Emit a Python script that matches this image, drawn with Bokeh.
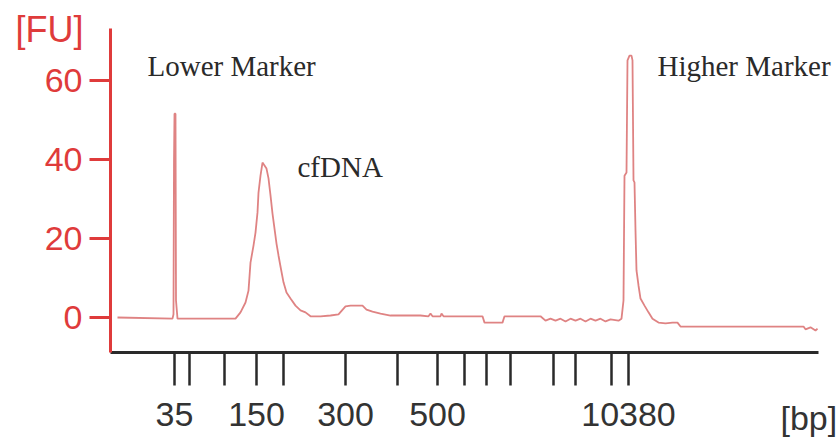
from bokeh.plotting import figure
from bokeh.models import FixedTicker, Label, Range1d
from bokeh.embed import file_html
from bokeh.resources import INLINE

# Electropherogram trace: migration position (scan units) vs fluorescence [FU]
trace_x = [7, 62, 63, 63.5, 64, 65, 65.5, 67, 125, 130, 135, 138, 140, 143, 145, 147,
           148, 150, 152, 154, 156, 158, 160, 162, 164, 166, 168, 170, 173, 176, 180,
           185, 190, 195, 200, 210, 220, 228, 235, 240, 252, 256, 262, 270, 280, 290,
           310, 318, 320, 322, 330, 331, 333, 372, 374, 392, 394, 430, 435, 440, 445,
           450, 455, 460, 465, 470, 475, 480, 485, 490, 495, 500, 508, 511, 513, 514,
           516, 517, 519, 521, 522, 523, 524, 525, 526, 528, 530, 534, 538, 542, 548,
           555, 562, 567, 570, 693, 695, 700, 705, 707]
trace_fu = [0.0, -0.3, 0.8, 39.7, 51.6, 51.6, 4.3, -0.3, -0.3, 1.3, 3.8, 6.8, 13.9, 18.2,
            21.5, 26.6, 31.6, 35.9, 39.2, 38.5, 37.7, 35.2, 30.9, 26.3, 22.5, 18.7, 15.7,
            12.9, 8.9, 6.3, 4.8, 3.0, 1.8, 1.3, 0.3, 0.3, 0.5, 0.8, 2.8, 3.0, 3.0, 2.0,
            1.5, 1.0, 0.5, 0.5, 0.5, 0.3, 1.0, 0.3, 0.3, 1.0, 0.3, 0.3, -1.3, -1.3, 0.3,
            0.3, -0.8, -0.3, -0.8, -0.3, -1.0, -0.3, -0.8, -0.3, -1.0, -0.3, -0.8, -0.3,
            -1.0, -0.5, -0.8, -0.3, 4.3, 35.9, 36.7, 65.1, 66.3, 66.3, 65.1, 34.7, 34.2,
            22.0, 11.9, 8.1, 4.8, 3.0, 1.3, -0.3, -1.3, -1.5, -1.3, -1.3, -2.3, -2.3,
            -3.0, -2.5, -3.3, -2.8]

# Ladder fragments (bp) and their migration positions
ladder_bp = [35, 50, 100, 150, 200, 300, 400, 500, 600, 700, 1000, 2000, 3000, 7000, 10380]
ladder_pos = [64, 79, 114, 146, 173, 235, 287, 327, 354, 376, 400, 443, 465, 501, 518]
labelled_bp = [35, 150, 300, 500, 10380]

fu_ticks = [0, 20, 40, 60]

# Extent of the drawn axes (scan units / FU)
scan_extent = (0, 708)
fu_extent = (-8.86, 73.2)

# Peak annotations (centre line of the text)
peak_names = ["Lower Marker", "cfDNA", "Higher Marker"]
peak_label_x = [37, 187, 547]
peak_label_fu = [63.6, 38.0, 63.6]

RED = "#df3b3b"
TRACE = "#db7676"
DARK = "#2a2a2a"
NARROW = "'Liberation Sans', Arial, sans-serif"
SERIF = "'Liberation Serif', 'Times New Roman', serif"

# The frame fills the page; axes are pinned inside it so that the unit
# captions and marker names can sit around them without being clipped.
p = figure(width=838, height=442, output_backend="svg", toolbar_location=None,
           x_range=Range1d(-110, 728), y_range=Range1d(-31.65, 80.25),
           min_border=0, min_border_left=0, min_border_right=0,
           min_border_top=0, min_border_bottom=0)
p.outline_line_color = None
p.xgrid.visible = False
p.ygrid.visible = False
p.background_fill_color = "white"
p.border_fill_color = "white"

p.line(trace_x, trace_fu, line_color=TRACE, line_width=1.8, line_alpha=0.9)

# x axis: ladder sizes
xa = p.xaxis[0]
xa.fixed_location = fu_extent[0]
xa.bounds = scan_extent
xa.ticker = FixedTicker(ticks=ladder_pos)
xa.major_label_overrides = {pos: (str(bp) if bp in labelled_bp else "")
                            for pos, bp in zip(ladder_pos, ladder_bp)}
xa.axis_line_color = DARK
xa.axis_line_width = 3
xa.major_tick_line_color = DARK
xa.major_tick_line_width = 2.5
xa.major_tick_out = 33
xa.major_tick_in = 0
xa.minor_tick_line_color = None
xa.major_label_text_font = NARROW
xa.major_label_text_font_size = "34px"
xa.major_label_text_color = "#333333"
xa.major_label_standoff = 18

# y axis: fluorescence units
ya = p.yaxis[0]
ya.fixed_location = scan_extent[0]
ya.bounds = fu_extent
ya.ticker = FixedTicker(ticks=fu_ticks)
ya.axis_line_color = RED
ya.axis_line_width = 3
ya.major_tick_line_color = RED
ya.major_tick_line_width = 3
ya.major_tick_out = 21
ya.major_tick_in = 0
ya.minor_tick_line_color = None
ya.major_label_text_font = NARROW
ya.major_label_text_font_size = "34px"
ya.major_label_text_color = RED
ya.major_label_standoff = 7

# unit captions
p.add_layout(Label(x=-95, y=72.8, text="[FU]", text_font=NARROW, text_font_size="36px",
                   text_color=RED, text_baseline="middle"))
p.add_layout(Label(x=670, y=-25.5, text="[bp]", text_font=NARROW, text_font_size="34px",
                   text_color="#333333", text_baseline="middle"))

for name, lx, ly in zip(peak_names, peak_label_x, peak_label_fu):
    p.add_layout(Label(x=lx, y=ly, text=name, text_font=SERIF, text_font_size="29px",
                       text_color=DARK, text_baseline="middle"))

open("out.html", "w").write(file_html(p, INLINE))
